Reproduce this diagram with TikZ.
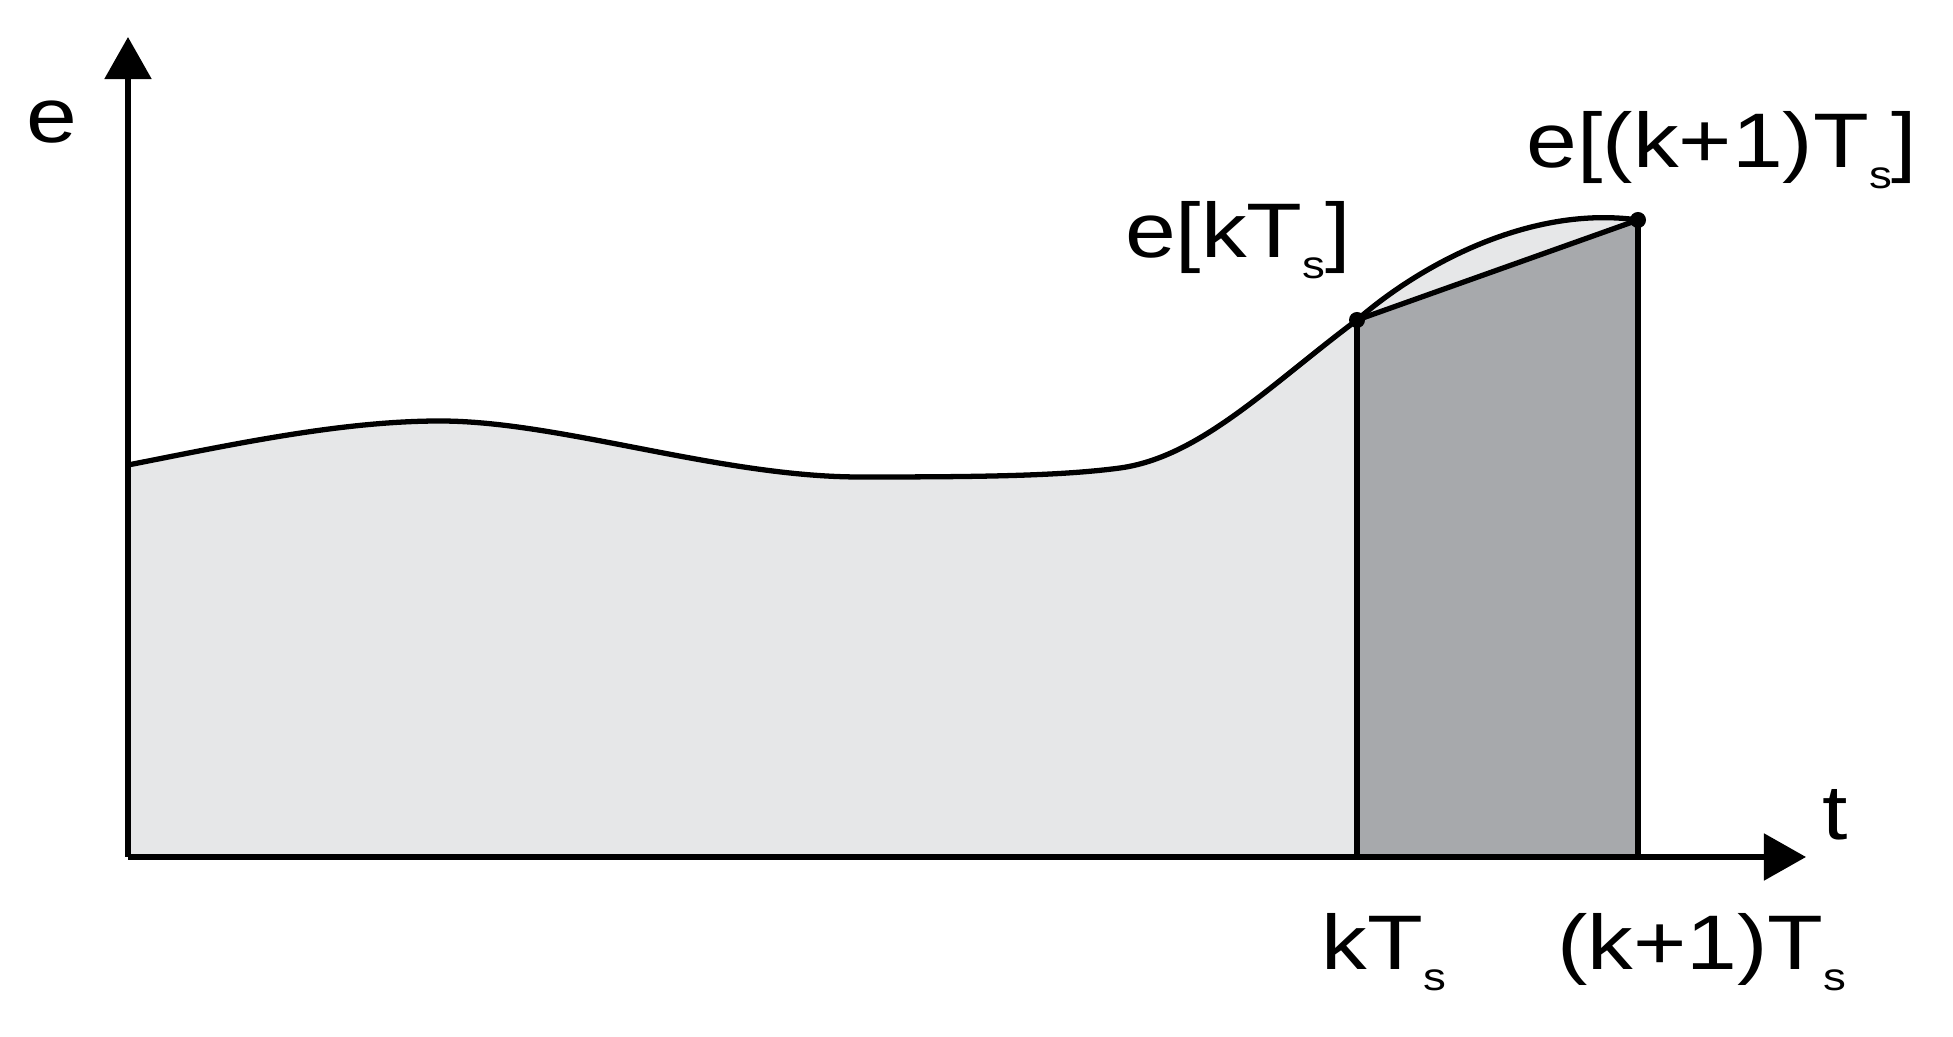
\documentclass[tikz,border=0pt]{standalone}
\usepackage{fontspec}
\setmainfont{Liberation Sans}[FakeStretch=1.18]
\usetikzlibrary{arrows.meta}
\definecolor{lightfill}{HTML}{E6E7E8}
\definecolor{darkfill}{HTML}{A7A9AC}
\newcommand\lowsub[1]{\raisebox{-0.5ex}{\fontsize{11}{12}\selectfont #1}}
\tikzset{
  axis/.style={line width=1.5pt, -{Triangle[length=0.42cm, width=0.46cm]}},
  curveline/.style={line width=1.5pt},
  lab/.style={font=\fontsize{22}{26}\selectfont, inner sep=0pt},
  dot/.style={circle, fill=black, inner sep=0pt, minimum size=0.16cm}
}
\newcommand\signalpath{(128,465) .. controls (230,445) and (340,421) .. (440,421)
  .. controls (560,421) and (720,477) .. (860,477)
  .. controls (980,477) and (1060,476) .. (1120,468)
  .. controls (1200,457) and (1270,385) .. (1357,320)
  .. controls (1420,265) and (1530,205) .. (1638,220)}
\begin{document}
\begin{tikzpicture}[x=0.01cm, y=-0.01cm]
\useasboundingbox (0,0) rectangle (1953,1037);
% key coordinates
\coordinate (O) at (128,857);
\coordinate (ytip) at (128,37);
\coordinate (xtip) at (1806,857);
\coordinate (k0) at (1357,857);
\coordinate (k1) at (1638,857);
\coordinate (p0) at (1357,320);
\coordinate (p1) at (1638,220);
% light fill under curve
\fill[lightfill] (O) -- \signalpath -- (k1) -- cycle;
% dark trapezoid
\fill[darkfill] (k0) -- (p0) -- (p1) -- (k1) -- cycle;
% curve
\draw[curveline] \signalpath;
% chord and verticals
\draw[curveline] (p0) -- (p1);
\draw[curveline] (k0) -- (p0);
\draw[curveline] (k1) -- (p1);
% axes
\draw[axis] (O) -- (xtip);
\draw[axis] (O) -- (ytip);
% dots
\node[dot] (d0) at (p0) {};
\node[dot] (d1) at (p1) {};
% labels
\node[lab] (le) at (52,122) {e};
\node[lab] (lt) at (1835,815) {t};
\node[lab] (lek) at (1238,240) {e[kT\lowsub{s}]};
\node[lab] (lek1) at (1722,150) {e[(k+1)T\lowsub{s}]};
\node[lab] (lk) at (1384,952) {kT\lowsub{s}};
\node[lab] (lk1) at (1702,952) {(k+1)T\lowsub{s}};
\end{tikzpicture}
\end{document}
